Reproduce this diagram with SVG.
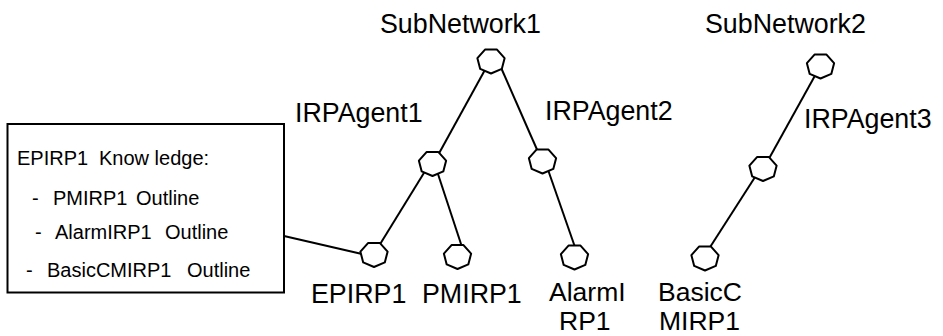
<svg xmlns="http://www.w3.org/2000/svg" xmlns:xlink="http://www.w3.org/1999/xlink" width="943" height="336" viewBox="0 0 943 336">
<style>
.lbl{font-family:"Liberation Sans",Arial,sans-serif;font-size:26.8px;fill:#000}
.two{font-size:26.5px}
.box{font-family:"Liberation Sans",Arial,sans-serif;font-size:20px;fill:#000}
.edge{stroke:#000;stroke-width:2;fill:none}
.nd{fill:#fff;stroke:#000;stroke-width:2;stroke-linejoin:round}
</style>
<defs>
<polygon id="hex" points="0,12.5 -10.8,7.9 -13.6,-2.8 -6,-11.4 6,-11.4 13.6,-2.8 10.8,7.9"/>
</defs>
<rect width="943" height="336" fill="#fff"/>
<g id="connectors">
<line class="edge" x1="486" y1="68" x2="437" y2="157"/>
<line class="edge" x1="499" y1="63" x2="542" y2="161"/>
<line class="edge" x1="427" y1="168" x2="374" y2="254"/>
<line class="edge" x1="436" y1="168" x2="462" y2="247"/>
<line class="edge" x1="546" y1="164" x2="576" y2="250"/>
<line class="edge" x1="284" y1="236" x2="362" y2="254"/>
<line class="edge" x1="817" y1="72" x2="766" y2="164"/>
<line class="edge" x1="757" y1="174" x2="705" y2="255"/>
</g>
<g id="knowledge-box">
<rect x="7.5" y="124" width="276.5" height="168.5" fill="#fff" stroke="#000" stroke-width="2"/>
<text class="box" x="17" y="165">EPIRP1</text>
<text class="box" x="99" y="165">Know ledge:</text>
<text class="box" x="32" y="205">-</text>
<text class="box" x="53" y="205">PMIRP1</text>
<text class="box" x="136" y="205">Outline</text>
<text class="box" x="35" y="239">-</text>
<text class="box" x="55" y="239">AlarmIRP1</text>
<text class="box" x="165" y="239">Outline</text>
<text class="box" x="26" y="277">-</text>
<text class="box" x="47" y="277">BasicCMIRP1</text>
<text class="box" x="187" y="277">Outline</text>
</g>
<g id="SubNetwork1">
<use xlink:href="#hex" href="#hex" class="nd" x="491" y="61"/>
<text class="lbl" x="380" y="33">SubNetwork1</text>
</g>
<g id="IRPAgent1">
<use xlink:href="#hex" href="#hex" class="nd" x="432.5" y="163.5"/>
<text class="lbl" x="295" y="122">IRPAgent1</text>
</g>
<g id="IRPAgent2">
<use xlink:href="#hex" href="#hex" class="nd" x="542.5" y="161"/>
<text class="lbl" x="545" y="120">IRPAgent2</text>
</g>
<g id="EPIRP1">
<use xlink:href="#hex" href="#hex" class="nd" x="374" y="254.5"/>
<text class="lbl" x="311" y="303">EPIRP1</text>
</g>
<g id="PMIRP1">
<use xlink:href="#hex" href="#hex" class="nd" x="457.5" y="256.5"/>
<text class="lbl" x="422" y="303">PMIRP1</text>
</g>
<g id="AlarmIRP1">
<use xlink:href="#hex" href="#hex" class="nd" x="574.5" y="257"/>
<text class="lbl two" x="549" y="300.5">AlarmI<tspan x="559" y="330.2">RP1</tspan></text>
</g>
<g id="SubNetwork2">
<use xlink:href="#hex" href="#hex" class="nd" x="820.5" y="66"/>
<text class="lbl" x="705" y="33">SubNetwork2</text>
</g>
<g id="IRPAgent3">
<use xlink:href="#hex" href="#hex" class="nd" x="763" y="168.5"/>
<text class="lbl" x="804" y="128">IRPAgent3</text>
</g>
<g id="BasicCMIRP1">
<use xlink:href="#hex" href="#hex" class="nd" x="705" y="258"/>
<text class="lbl two" x="658" y="300.5">BasicC<tspan x="659" y="330.2">MIRP1</tspan></text>
</g>
</svg>
